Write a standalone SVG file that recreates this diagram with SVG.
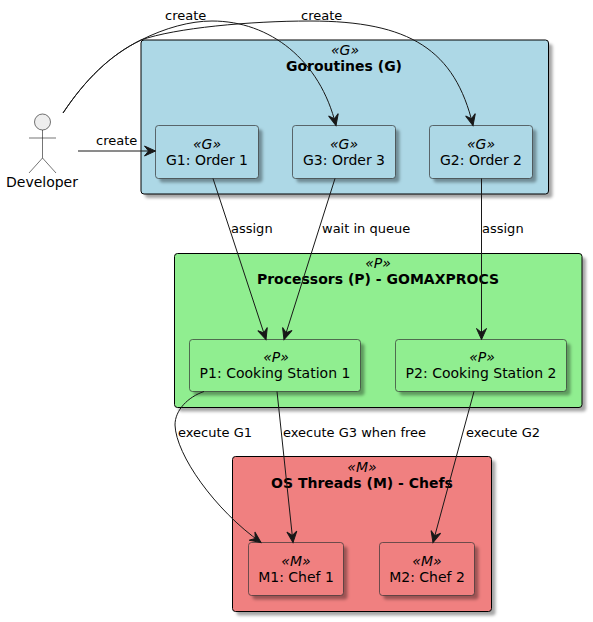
<svg xmlns="http://www.w3.org/2000/svg" width="593" height="622" viewBox="0 0 593 622">
<defs>
<filter id="sh" x="-10%" y="-10%" width="125%" height="125%"><feGaussianBlur stdDeviation="1.6"/></filter>
<marker id="arr" markerUnits="userSpaceOnUse" markerWidth="14" markerHeight="12" refX="11" refY="5" orient="auto" overflow="visible"><path d="M0,0 L11,5 L0,10 L4,5 Z" fill="#181818" stroke="#181818"/></marker>
</defs>
<style>
text{font-family:"DejaVu Sans",sans-serif;fill:#000;text-anchor:middle}
.st{font-size:14px;font-style:italic}
.t{font-size:14px}
.b{font-size:14px;font-weight:bold}
.l{font-size:13px;text-anchor:start}
.s{fill:#000;fill-opacity:.35;filter:url(#sh)}
.c{stroke:#333;stroke-width:.7}
.o{stroke:#000;stroke-width:1}
.g{fill:#ADD8E6}.p{fill:#90EE90}.m{fill:#F08080}
.e{fill:none;stroke:#181818;stroke-width:1;marker-end:url(#arr)}
.a{fill:none;stroke:#181818;stroke-width:.6}
</style>
<g id="cluster-G">
<rect class="s" x="145" y="44" width="407.500" height="154" rx="3"/>
<rect class="g o" x="141" y="40" width="407.500" height="154" rx="3"/>
<text class="st" x="345" y="55">«G»</text><text class="b" x="344" y="71">Goroutines (G)</text>
</g>
<g id="cluster-P">
<rect class="s" x="178.500" y="257.500" width="407.500" height="154" rx="3"/>
<rect class="p o" x="174.500" y="253.500" width="407.500" height="154" rx="3"/>
<text class="st" x="378" y="268">«P»</text><text class="b" x="378" y="284">Processors (P) - GOMAXPROCS</text>
</g>
<g id="cluster-M">
<rect class="s" x="236.500" y="460.500" width="259" height="155" rx="3"/>
<rect class="m o" x="232.500" y="456.500" width="259" height="155" rx="3"/>
<text class="st" x="362" y="472">«M»</text><text class="b" x="362" y="488">OS Threads (M) - Chefs</text>
</g>
<g id="G1"><rect class="s" x="159.500" y="129.500" width="103" height="53" rx="3"/><rect class="g c" x="155.500" y="125.500" width="103" height="53" rx="3"/><text class="st" x="207" y="149">«G»</text><text class="t" x="207" y="165">G1: Order 1</text></g>
<g id="G3"><rect class="s" x="296.500" y="129.500" width="103" height="53" rx="3"/><rect class="g c" x="292.500" y="125.500" width="103" height="53" rx="3"/><text class="st" x="344" y="149">«G»</text><text class="t" x="344" y="165">G3: Order 3</text></g>
<g id="G2"><rect class="s" x="433.500" y="129.500" width="103" height="53" rx="3"/><rect class="g c" x="429.500" y="125.500" width="103" height="53" rx="3"/><text class="st" x="481" y="149">«G»</text><text class="t" x="481" y="165">G2: Order 2</text></g>
<g id="P1"><rect class="s" x="193.500" y="343.500" width="171" height="52" rx="3"/><rect class="p c" x="189.500" y="339.500" width="171" height="52" rx="3"/><text class="st" x="276" y="362">«P»</text><text class="t" x="275" y="378">P1: Cooking Station 1</text></g>
<g id="P2"><rect class="s" x="399.500" y="343.500" width="171" height="52" rx="3"/><rect class="p c" x="395.500" y="339.500" width="171" height="52" rx="3"/><text class="st" x="482" y="362">«P»</text><text class="t" x="481" y="378">P2: Cooking Station 2</text></g>
<g id="M1"><rect class="s" x="252.500" y="546.500" width="95" height="53" rx="3"/><rect class="m c" x="248.500" y="542.500" width="95" height="53" rx="3"/><text class="st" x="296" y="566">«M»</text><text class="t" x="296" y="582">M1: Chef 1</text></g>
<g id="M2"><rect class="s" x="383.500" y="546.500" width="95" height="53" rx="3"/><rect class="m c" x="379.500" y="542.500" width="95" height="53" rx="3"/><text class="st" x="427" y="566">«M»</text><text class="t" x="427" y="582">M2: Chef 2</text></g>
<g id="Developer">
<circle cx="42.500" cy="122" r="8" fill="#EEEEEE" stroke="#181818" stroke-width=".6"/>
<path class="a" d="M42.500,130 V158 M29,138 H56 M29,173 L42.500,158 L56,173"/>
<text class="t" x="42" y="187">Developer</text>
</g>
<g id="connectors">
<path class="e" d="M78,151 H155.500"/>
<path class="e" d="M63,113 C85,80 110,55 141,40 C165,28 190,21 212,21 C270,21 320,60 336,125.500"/>
<path class="e" d="M63,113 C85,80 110,55 141,40 C175,28 250,21 310,21 C410,21 455,50 473,125.500"/>
<path class="e" d="M213,178.500 L266,339.500"/>
<path class="e" d="M335,178.500 L284,339.500"/>
<path class="e" d="M481.500,178.500 V339.500"/>
<path class="e" d="M204,391.500 C188,397 175,410 175,425 C176,455 215,510 261,542.500"/>
<path class="e" d="M277,391.500 L293,542.500"/>
<path class="e" d="M474,391.500 L433,542.500"/>
<text class="l" x="165" y="20">create</text>
<text class="l" x="301" y="20">create</text>
<text class="l" x="96" y="145">create</text>
<text class="l" x="231" y="233">assign</text>
<text class="l" x="322" y="233">wait in queue</text>
<text class="l" x="482" y="233">assign</text>
<text class="l" x="178" y="437">execute G1</text>
<text class="l" x="283" y="437">execute G3 when free</text>
<text class="l" x="466" y="437">execute G2</text>
</g>
</svg>
